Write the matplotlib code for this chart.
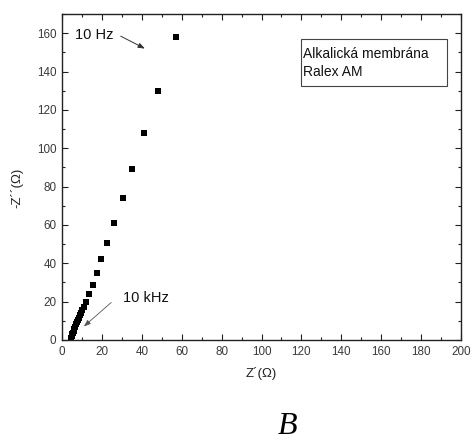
import matplotlib
matplotlib.use("Agg")
import matplotlib.pyplot as plt
from matplotlib.patches import Rectangle
from matplotlib.ticker import MultipleLocator

plt.rcParams['font.family'] = ['Liberation Sans', 'DejaVu Sans']

z_real = [4.3, 4.6, 4.9, 5.2, 5.5, 5.8, 6.2, 6.6, 7.0, 7.4, 7.9, 8.4, 8.9, 9.5,
          10.1, 10.9, 12.2, 13.6, 15.4, 17.5, 19.7, 22.7, 26.2, 30.4, 35.2,
          41.1, 48.3, 57.0]
z_imag = [0.5, 1.3, 2.1, 3.0, 3.9, 4.9, 5.9, 7.0, 8.1, 9.2, 10.4, 11.6, 12.9,
          14.2, 15.6, 17.2, 20.0, 23.8, 28.7, 34.7, 42.0, 50.4, 61.2, 73.9,
          89.3, 108.0, 130.0, 158.0]

x_ticks = [0, 20, 40, 60, 80, 100, 120, 140, 160, 180, 200]
y_ticks = [0, 20, 40, 60, 80, 100, 120, 140, 160]

fig = plt.figure(figsize=(4.73, 4.43), dpi=100)
ax = fig.add_axes([62/473, 1-340/443, 399/473, 326/443])

ax.plot(z_real, z_imag, 's', color='black', markersize=3.8, markeredgewidth=0)

ax.set_xlim(0, 200)
ax.set_ylim(0, 170)
ax.set_xticks(x_ticks)
ax.set_yticks(y_ticks)
ax.xaxis.set_minor_locator(MultipleLocator(10))
ax.yaxis.set_minor_locator(MultipleLocator(10))
ax.tick_params(which='both', direction='in', top=True, right=True,
               labelsize=8.4, labelcolor='#3a3a3a', color='#222222')
ax.tick_params(which='major', length=4, width=0.8, pad=4)
ax.tick_params(which='minor', length=2.5, width=0.8)
for s in ax.spines.values():
    s.set_linewidth(1.0)
    s.set_color('#222222')

ax.set_xlabel('Z´(Ω)', fontsize=9.5, color='#222222', labelpad=7)
fig.text(17/473, 1-188/443, '-Z´´(Ω)', rotation=90, ha='center', va='center',
         fontsize=9.5, color='#222222')

ax.annotate('', xy=(42.8, 151.3), xytext=(28.2, 159.1),
            arrowprops=dict(arrowstyle='-|>,head_length=0.4,head_width=0.15',
                            color='#333333', lw=0.7))
ax.text(6.5, 159.0, '10 Hz', fontsize=10.5, ha='left', va='center', color='#111111')

ax.annotate('', xy=(9.9, 6.1), xytext=(25.7, 20.5),
            arrowprops=dict(arrowstyle='-|>,head_length=0.4,head_width=0.15',
                            color='#555555', lw=0.6))
ax.text(30.7, 21.7, '10 kHz', fontsize=10.5, ha='left', va='center', color='#111111')

ax.add_patch(Rectangle((0.599, 0.779), 0.366, 0.144, transform=ax.transAxes,
                       fill=False, edgecolor='#444444', lw=0.8))
ax.text(0.604, 0.877, 'Alkalická membrána', transform=ax.transAxes,
        fontsize=10, ha='left', va='center', color='#111111')
ax.text(0.604, 0.822, 'Ralex AM', transform=ax.transAxes,
        fontsize=10, ha='left', va='center', color='#111111')

fig.text(287/473, 1-434/443, 'B', fontsize=23, style='italic',
         family=['Liberation Serif', 'DejaVu Serif'], ha='center', va='baseline')

fig.savefig('out.png', dpi=100)
